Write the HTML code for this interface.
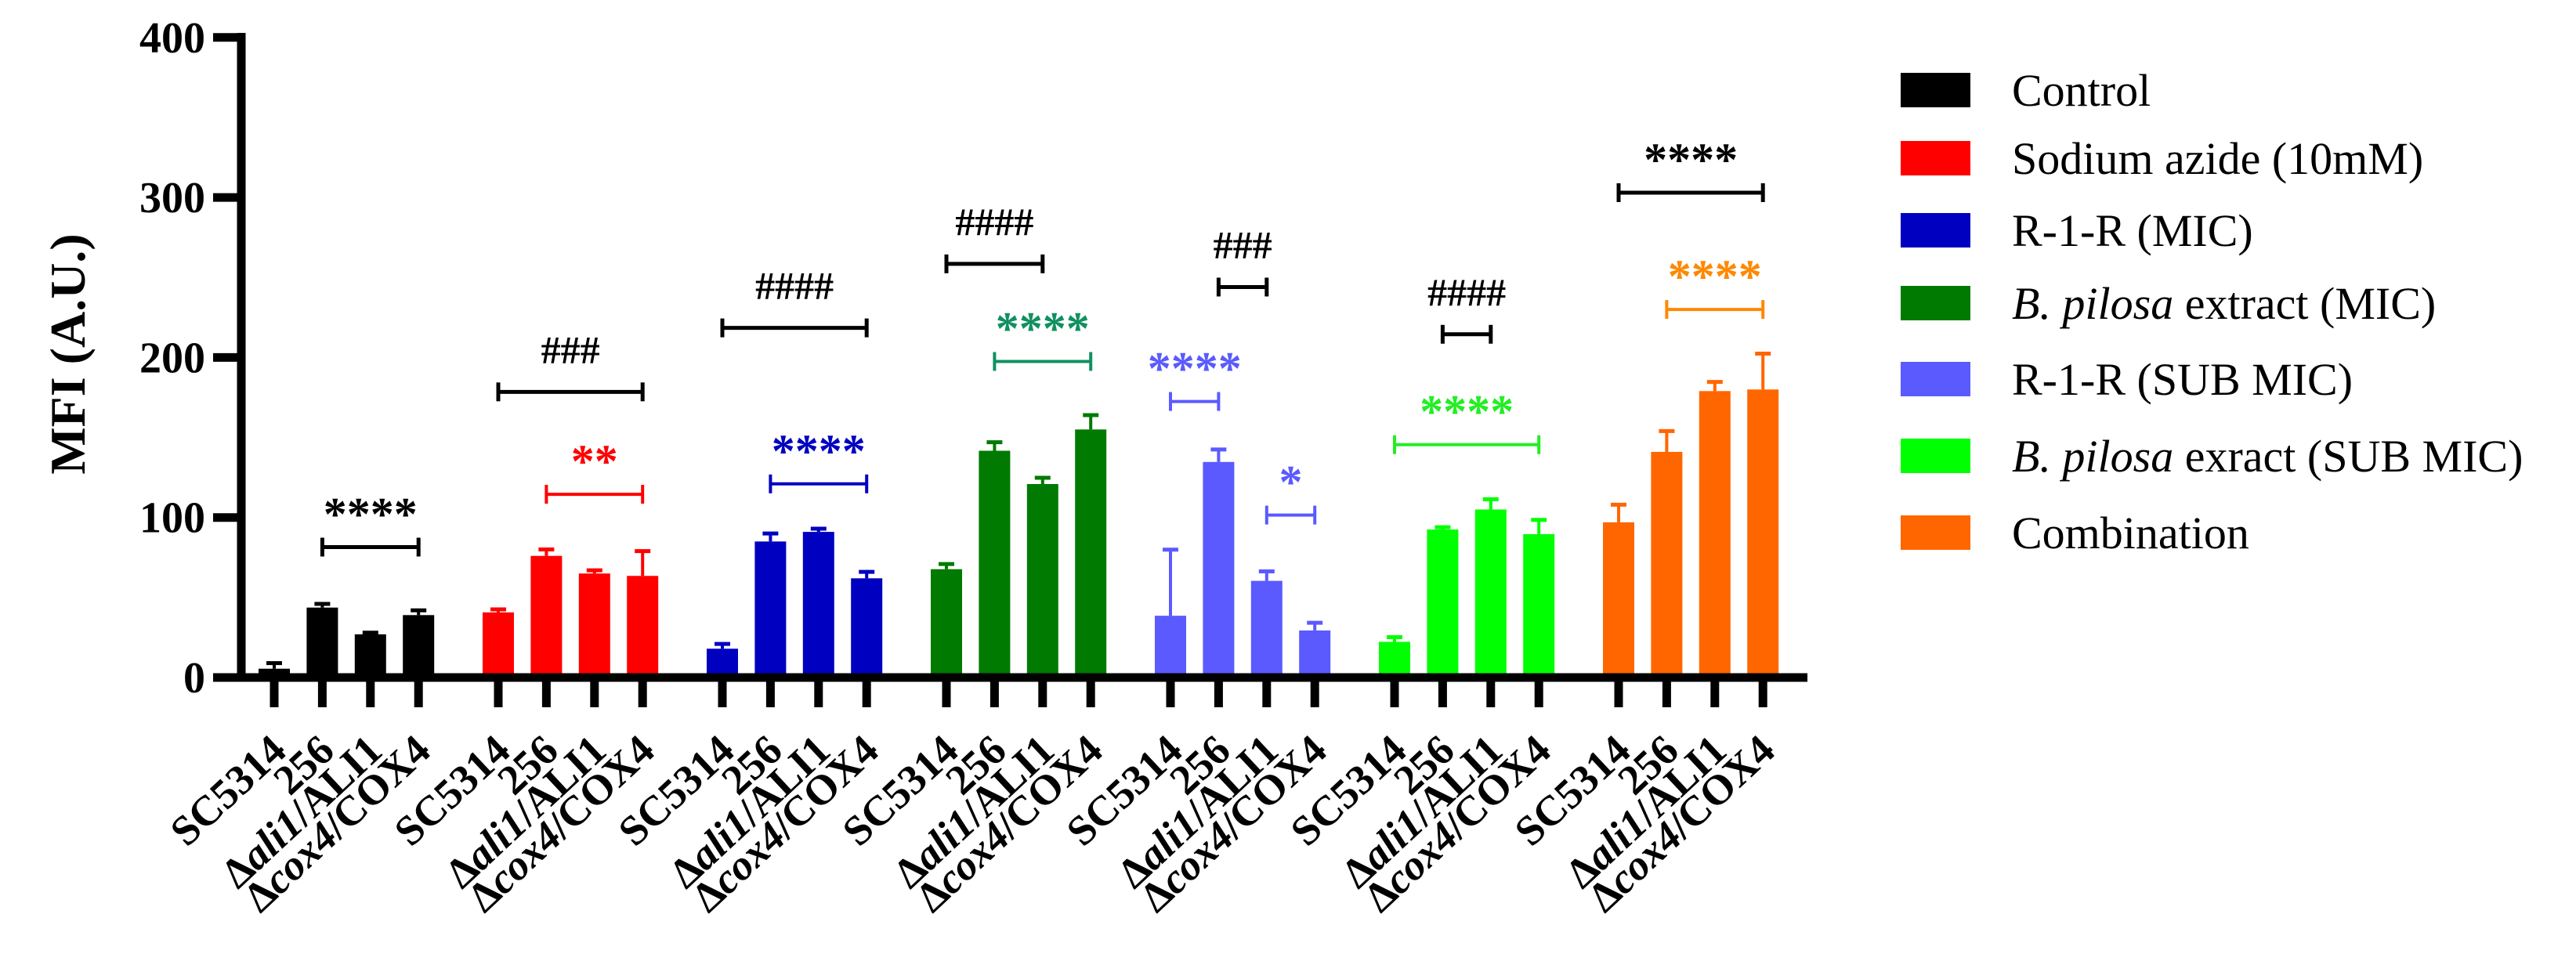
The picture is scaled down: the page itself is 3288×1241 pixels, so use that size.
<!DOCTYPE html>
<html><head><meta charset="utf-8"><style>
html,body{margin:0;padding:0;background:#fff;}
svg, svg text{font-family:"Liberation Serif","DejaVu Serif",serif;}
</style></head><body>
<svg id="chart" width="3288" height="1236" viewBox="0 0 3288 1236" xmlns="http://www.w3.org/2000/svg" font-family="Liberation Serif, DejaVu Serif, serif">
<g id="plot"></g>
<g id="legend"></g>
</svg>
<script>
const groups = ["Control","Sodium azide (10mM)","R-1-R (MIC)","B. pilosa extract (MIC)","R-1-R (SUB MIC)","B. pilosa exract (SUB MIC)","Combination"];
const colors = ["#000000","#ff0000","#0000c0","#007a00","#5a5aff","#00ff00","#ff6600"];
const strains = ["SC5314","256","ali1","cox4"];
const means = [
 [5.5,43.7,27,39],
 [40.7,76,65,63.5],
 [18,85,91,62],
 [67.7,141.7,120.9,155],
 [38.6,134.7,60.4,29.4],
 [22.3,92.5,105,89.6],
 [97,141,179,180]
];
const errTops = [
 [9,46,28,42],
 [42.6,80,67,79],
 [21,90,93,66],
 [70.9,147,124.8,164],
 [79.9,142.5,66.3,34.2],
 [25.2,93.9,111.4,98.5],
 [108,154,184.7,202.4]
];
const yTicks = [0,100,200,300,400];
const sigGroup = [0,1,1,2,2,3,3,4,4,4,5,5,6,6];
const sigFrom  = [1,0,1,0,1,0,1,1,0,2,1,0,0,1];
const sigTo    = [3,3,3,3,3,2,3,2,1,3,2,3,3,3];
const sigLevel = [81.5,178.5,114.5,218.5,121,258.5,197.5,244,172.5,101.5,214.5,145.5,303,230];
const sigLabel = ["****","###","**","####","****","####","****","###","****","*","####","****","****","****"];
const sigColor = ["#000","#000","#ff0000","#000","#0000c0","#000","#109060","#000","#5a5aff","#5a5aff","#000","#22ee22","#000","#ff8800"];

const NS="http://www.w3.org/2000/svg";
const FF="Liberation Serif, DejaVu Serif, serif";
const plot=document.getElementById('plot');
const legend=document.getElementById('legend');
function mk(tag,attrs,parent){const e=document.createElementNS(NS,tag);for(const k in attrs)e.setAttribute(k,attrs[k]);if(tag==='text')e.setAttribute('font-family',FF);(parent||plot).appendChild(e);return e;}
const y0=865, pxPer=2.043;
function yS(v){return y0-v*pxPer;}
function xS(g,i){return 350+g*286+i*61.4;}
const BW=40;

for(let g=0;g<groups.length;g++){
 for(let i=0;i<4;i++){
  const x=xS(g,i);
  const r=mk('rect',{x:x-BW/2,y:yS(means[g][i]),width:BW,height:y0-yS(means[g][i]),fill:colors[g]});
  
  
  const l=mk('line',{x1:x,x2:x,y1:yS(means[g][i]),y2:yS(errTops[g][i]),stroke:colors[g],'stroke-width':4});
  
  
  const c=mk('line',{x1:x-10,x2:x+10,y1:yS(errTops[g][i]),y2:yS(errTops[g][i]),stroke:colors[g],'stroke-width':5});
  
  
  const t=mk('line',{x1:x,x2:x,y1:y0,y2:903,stroke:'#000','stroke-width':11});
  
  
  const tx=mk('text',{transform:'translate('+(x+18)+',962) rotate(-43)','text-anchor':'end','font-size':54,'font-weight':'bold'});
  
  
  if(i===0)tx.textContent='SC5314';
  else if(i===1)tx.textContent='256';
  else{
   const d=mk('tspan',{},tx);d.textContent='Δ';
   const it=mk('tspan',{'font-style':'italic'},tx);it.textContent=strains[i];
   const rest=mk('tspan',{},tx);rest.textContent='/'+strains[i].toUpperCase();
  }
 }
}
const ya=mk('line',{x1:308,x2:308,y1:42,y2:870,stroke:'#000','stroke-width':11});

const xa=mk('line',{x1:272,x2:2307,y1:y0,y2:y0,stroke:'#000','stroke-width':11});

for(const v of yTicks){
 const t=mk('line',{x1:272,x2:308,y1:yS(v),y2:yS(v),stroke:'#000','stroke-width':11});
 
 const tl=mk('text',{x:262,y:yS(v)+19,'text-anchor':'end','font-size':56,'font-weight':'bold'});
 
 tl.textContent=v;
}
const yt=mk('text',{transform:'translate(108,452) rotate(-90)','text-anchor':'middle','font-size':64,'font-weight':'bold'});

yt.textContent='MFI (A.U.)';

for(let k=0;k<sigLabel.length;k++){
 const g=sigGroup[k];
 const xa1=xS(g,sigFrom[k]), xb=xS(g,sigTo[k]), y=yS(sigLevel[k]);
 const sw=sigColor[k]==="#000"?5:4;
 const gr=mk('g',{});
 
 
 mk('line',{x1:xa1,x2:xb,y1:y,y2:y,stroke:sigColor[k],'stroke-width':sw},gr);
 mk('line',{x1:xa1,x2:xa1,y1:y-12,y2:y+12,stroke:sigColor[k],'stroke-width':sw},gr);
 mk('line',{x1:xb,x2:xb,y1:y-12,y2:y+12,stroke:sigColor[k],'stroke-width':sw},gr);
 const isHash=sigLabel[k].indexOf('#')>=0;
 const t=mk('text',{x:(xa1+xb)/2,y:isHash?y-37:y-22,'text-anchor':'middle','font-size':isHash?50:60,'font-weight':'bold',fill:sigColor[k]},gr);
 
 
 t.textContent=sigLabel[k];
}

const rowY=[115,202,294,387,484,582,680];
for(let g=0;g<groups.length;g++){
 const gr=mk('g',{},legend);
 
 
 mk('rect',{x:2426,y:rowY[g]-22,width:89,height:44,fill:colors[g]},gr);
 const t=mk('text',{x:2568,y:rowY[g]+20,'font-size':58},gr);
 if(groups[g].startsWith('B. pilosa')){
  const it=mk('tspan',{'font-style':'italic'},t);it.textContent='B. pilosa';
  const r=mk('tspan',{},t);r.textContent=groups[g].slice(9);
 } else t.textContent=groups[g];
}
</script>
</body></html>
